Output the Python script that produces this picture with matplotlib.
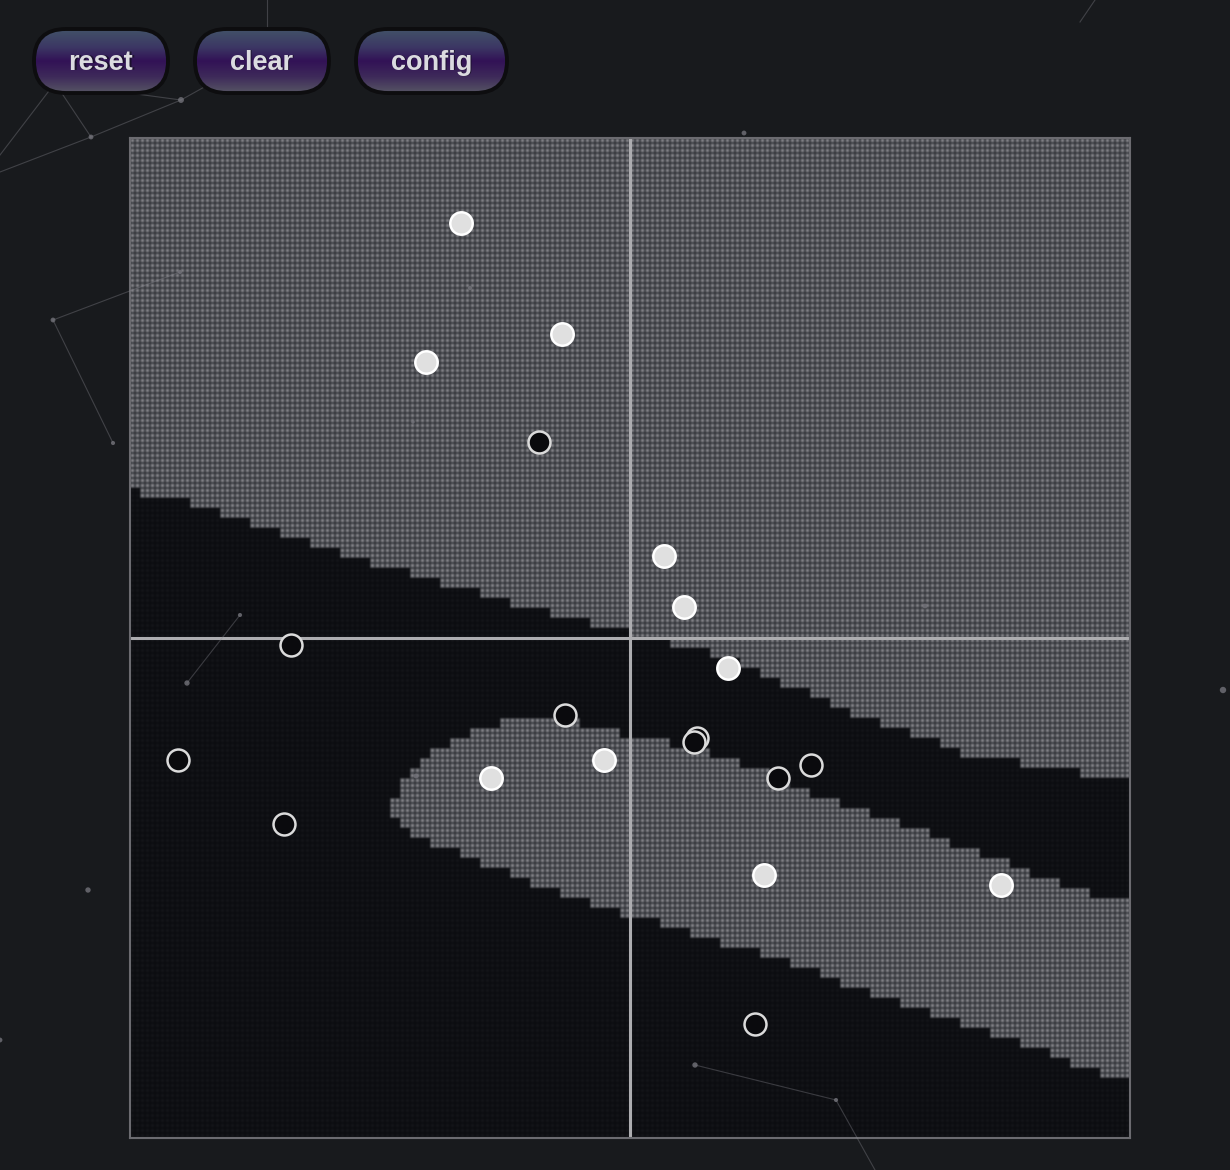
import numpy as np
import matplotlib
matplotlib.use("Agg")
import matplotlib.pyplot as plt
from matplotlib.path import Path
from matplotlib.patches import FancyBboxPatch

# ---------------- data ----------------
# class 1 (white) points, data coords in [-5, 5]
pos_x = [-1.69, -0.68, -2.04, 0.34, 0.54, 0.98, -1.39, -0.26, 1.34, 3.71]
pos_y = [4.15, 3.04, 2.76, 0.82, 0.31, -0.30, -1.40, -1.22, -2.37, -2.47]
# class 0 (black) points
neg_x = [-0.91, -3.39, -0.65, -4.52, -3.46, 0.67, 0.64, 1.48, 1.81, 1.25]
neg_y = [1.96, -0.07, -0.77, -1.22, -1.86, -1.00, -1.04, -1.40, -1.27, -3.86]

# decision boundary: upper half-plane boundary (region above is class 1)
top_bx = [-5.0, -4.43, -2.53, -1.16, 0.0, 0.33, 0.98, 2.0, 3.33, 5.0]
top_by = [1.47, 1.35, 0.74, 0.35, 0.05, -0.03, -0.19, -0.66, -1.15, -1.43]
# lower class-1 band (polygon outline)
band_x = [-2.40, -2.30, -2.00, -1.70, -1.30, -0.70, -0.30, 0.00, 0.70, 1.30, 2.00,
          2.69, 3.69, 4.49, 5.09, 5.09, 4.69, 3.69, 2.69, 1.70, 0.70, 0.00, -0.90,
          -1.50, -2.10, -2.35]
band_y = [-1.69, -1.42, -1.15, -0.97, -0.85, -0.82, -0.88, -0.97, -1.10, -1.30, -1.62,
          -1.85, -2.22, -2.52, -2.64, -4.42, -4.35, -3.97, -3.65, -3.29, -2.97, -2.77,
          -2.47, -2.24, -2.00, -1.82]
grid_n = 100

buttons = ["reset", "clear", "config"]
btn_x0 = [34, 195, 356]
btn_x1 = [168, 329, 507]

# faint background network (pixel coords)
bg_nodes_x = [55, 91, 181, 0, 180, 53, 113, 240, 187, 88, 416, 470, 413, 744, 925, 1223, 695, 836, 875, 1095, 1080, 0, 267, 267, 0]
bg_nodes_y = [83, 137, 100, 155, 272, 320, 443, 615, 683, 890, 776, 288, 422, 133, 606, 690, 1065, 1100, 1170, 0, 22, 1040, 0, 52, 172]
bg_edges = [(0, 1), (0, 2), (1, 2), (0, 3), (4, 5), (5, 6), (7, 8), (16, 17), (17, 18), (19, 20), (22, 23), (1, 24), (2, 23)]
bg_node_size = [4, 4, 6, 0, 3, 4, 3, 3, 5, 5, 4, 3, 2, 4, 4, 7, 5, 3, 0, 0, 0, 4, 0, 0, 0]

# ---------------- figure ----------------
W, H = 1230, 1170
bg = (24 / 255, 26 / 255, 29 / 255)
fig = plt.figure(figsize=(W / 100, H / 100), dpi=100)
fig.patch.set_facecolor(bg)

ax = fig.add_axes([130 / W, (H - 1138) / H, 1000 / W, 1000 / H])
ax.set_xlim(-5, 5)
ax.set_ylim(-5, 5)

# cell classification
c = np.linspace(-5 + 5.0 / grid_n, 5 - 5.0 / grid_n, grid_n)
GX, GY = np.meshgrid(c, c[::-1])
upper = GY > np.interp(GX, top_bx, top_by)
band = Path(np.column_stack([band_x, band_y])).contains_points(
    np.column_stack([GX.ravel(), GY.ravel()])).reshape(GX.shape)
gray = upper | band

px = 1000
mask = np.kron(gray, np.ones((px // grid_n, px // grid_n))).astype(bool)
prof = np.array([0.25, 0.85, 1.0, 0.85, 0.25])
a = prof[np.arange(px) % 5]
tex = np.outer(a, a)[:, :, None]
g_dark = np.array([46, 48, 53]) / 255
g_light = np.array([140, 140, 145]) / 255
b_dark = np.array([11, 12, 15]) / 255
b_light = np.array([21, 22, 26]) / 255
img = np.where(mask[:, :, None], g_dark + (g_light - g_dark) * tex, b_dark + (b_light - b_dark) * tex)
# soften slightly like the upscaled canvas
k = [0.25, 0.5, 0.25]
for axis in (0, 1):
    img = k[0] * np.roll(img, 1, axis=axis) + k[1] * img + k[2] * np.roll(img, -1, axis=axis)
ax.imshow(img, extent=(-5, 5, -5, 5), origin="upper", interpolation="nearest", aspect="auto", zorder=0)

ax.axvline(0, color=(0.68, 0.68, 0.69), lw=2.2, zorder=2)
ax.axhline(0, color=(0.68, 0.68, 0.69), lw=2.2, zorder=2)
for s in ax.spines.values():
    s.set_color((0.42, 0.42, 0.44))
    s.set_linewidth(1.5)
ax.set_xticks([])
ax.set_yticks([])

ax.scatter(neg_x, neg_y, s=250, facecolor=(0.04, 0.04, 0.05), edgecolor=(0.86, 0.86, 0.86), linewidth=1.8, zorder=4)
ax.scatter(pos_x, pos_y, s=260, facecolor=(0.88, 0.88, 0.88), edgecolor="white", linewidth=1.8, zorder=4)

# ---------------- overlay (buttons + background network) ----------------
ov = fig.add_axes([0, 0, 1, 1], zorder=5)
ov.patch.set_alpha(0)
ov.set_xlim(0, W)
ov.set_ylim(H, 0)
ov.axis("off")

for (i, j) in bg_edges:
    ov.plot([bg_nodes_x[i], bg_nodes_x[j]], [bg_nodes_y[i], bg_nodes_y[j]],
            color=(0.55, 0.55, 0.58), lw=0.8, alpha=0.35, zorder=1)
ov.scatter(bg_nodes_x, bg_nodes_y, s=[v * 3 for v in bg_node_size], color=(0.45, 0.45, 0.48), alpha=0.8, zorder=1, linewidths=0)

stops = np.array([[66, 82, 104], [60, 55, 100], [50, 18, 86], [62, 42, 90], [86, 84, 100]]) / 255
tpos = np.array([0.0, 0.28, 0.5, 0.75, 1.0])
yy = np.linspace(0, 1, 64)
grad = np.stack([np.interp(yy, tpos, stops[:, k]) for k in range(3)], axis=-1)[:, None, :]
y0, y1 = 29, 93
for lbl, x0, x1 in zip(buttons, btn_x0, btn_x1):
    r = (y1 - y0) / 2
    outline = FancyBboxPatch((x0, y0), x1 - x0, y1 - y0, boxstyle=f"round,pad=0,rounding_size={r}",
                             facecolor="none", edgecolor=(0.05, 0.05, 0.06), lw=2.8, zorder=3)
    clip = FancyBboxPatch((x0, y0), x1 - x0, y1 - y0, boxstyle=f"round,pad=0,rounding_size={r}",
                          facecolor="none", edgecolor="none", transform=ov.transData)
    ov.add_patch(clip)
    im = ov.imshow(grad, extent=(x0, x1, y1, y0), origin="upper", aspect="auto", zorder=2, interpolation="bilinear")
    im.set_clip_path(clip)
    ov.add_patch(outline)
    cx_, cy_ = (x0 + x1) / 2, (y0 + y1) / 2 + 1.5
    ov.text(cx_ + 1, cy_ + 1, lbl, color=(0.05, 0.05, 0.08), fontsize=19.5,
            fontweight="bold", family="Liberation Sans", ha="center", va="center", zorder=4, alpha=0.6)
    ov.text(cx_, cy_, lbl, color=(0.86, 0.86, 0.88), fontsize=19.5,
            fontweight="bold", family="Liberation Sans", ha="center", va="center", zorder=5)

ov.set_xlim(0, W)
ov.set_ylim(H, 0)

fig.savefig("out.png", dpi=100, facecolor=bg)
